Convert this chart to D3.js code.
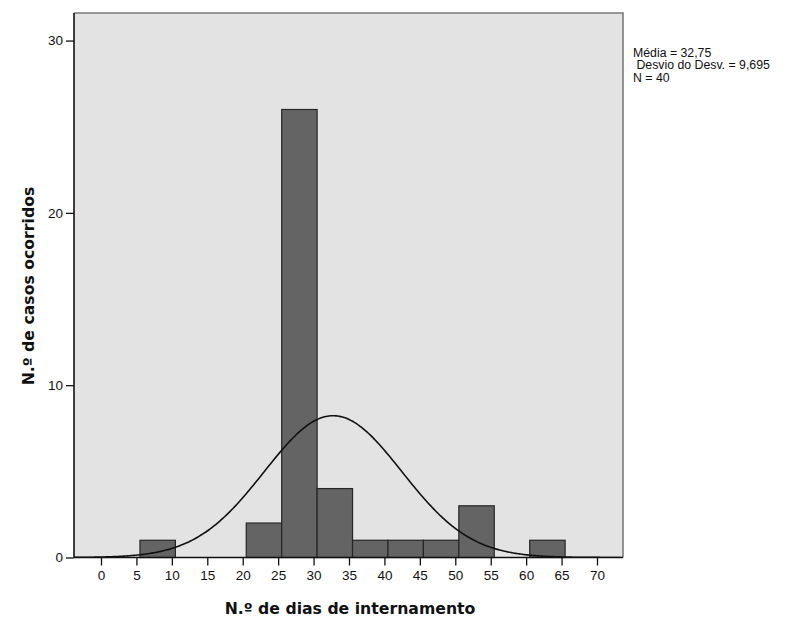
<!DOCTYPE html>
<html>
<head>
<meta charset="utf-8">
<script src="https://cdn.jsdelivr.net/npm/d3@7"></script>
<style>
  body { margin: 0; background: #fff; }
  svg { display: block; }
</style>
</head>
<body>
<svg id="chart" width="797" height="618"></svg>
<script>
// ---- data ----
const binStarts = [5.5, 20.5, 25.5, 30.5, 35.5, 40.5, 45.5, 50.5, 60.5];
const binCounts = [1, 2, 26, 4, 1, 1, 1, 3, 1];
const binWidth = 5;
const xTicks = [0, 5, 10, 15, 20, 25, 30, 35, 40, 45, 50, 55, 60, 65, 70];
const yTicks = [0, 10, 20, 30];
const stats = { mean: 32.75, sd: 9.695, n: 40 };
const legendLines = ["Média = 32,75", " Desvio do Desv. = 9,695", "N = 40"];
const xTitle = "N.º de dias de internamento";
const yTitle = "N.º de casos ocorridos";

// ---- layout ----
const frame = { left: 74, right: 623, top: 13, bottom: 557.5 };
const svg = d3.select("#chart");

const x = d3.scaleLinear().domain([-3.81, 73.67]).range([frame.left, frame.right]);
const y = d3.scaleLinear().domain([0, 31.6]).range([frame.bottom, frame.top]);

// background
svg.append("rect")
  .attr("x", frame.left).attr("y", frame.top)
  .attr("width", frame.right - frame.left).attr("height", frame.bottom - frame.top)
  .attr("fill", "#e3e3e3");

const clipId = "plotclip";
svg.append("clipPath").attr("id", clipId).append("rect")
  .attr("x", frame.left).attr("y", frame.top)
  .attr("width", frame.right - frame.left).attr("height", frame.bottom - frame.top);

// bars
const bins = binStarts.map((s, i) => ({ x0: s, x1: s + binWidth, c: binCounts[i] }));
svg.append("g").selectAll("rect").data(bins).join("rect")
  .attr("x", d => x(d.x0))
  .attr("y", d => y(d.c))
  .attr("width", d => x(d.x1) - x(d.x0))
  .attr("height", d => y(0) - y(d.c))
  .attr("fill", "#646464")
  .attr("stroke", "#262626")
  .attr("stroke-width", 1.2);

// normal curve
const scaleFactor = stats.n * binWidth;
const norm = v => scaleFactor / (stats.sd * Math.sqrt(2 * Math.PI)) *
  Math.exp(-0.5 * Math.pow((v - stats.mean) / stats.sd, 2));
const xs = d3.range(x.domain()[0], x.domain()[1] + 0.01, 0.25);
svg.append("path")
  .datum(xs)
  .attr("clip-path", `url(#${clipId})`)
  .attr("fill", "none")
  .attr("stroke", "#111")
  .attr("stroke-width", 1.6)
  .attr("d", d3.line().x(v => x(v)).y(v => y(norm(v))).curve(d3.curveBasis));

// frame top/right
svg.append("path")
  .attr("d", `M${frame.left},${frame.top}H${frame.right}V${frame.bottom}`)
  .attr("fill", "none").attr("stroke", "#7a7a7a").attr("stroke-width", 1.6);

// axes
const tickFont = "Liberation Sans, Arial, sans-serif";
const xAxis = d3.axisBottom(x).tickValues(xTicks).tickSize(8).tickPadding(5).tickSizeOuter(0);
const gx = svg.append("g").attr("transform", `translate(0,${frame.bottom})`).call(xAxis);
gx.select(".domain").attr("d", `M${frame.left},0H${frame.right}`).attr("stroke", "#111").attr("stroke-width", 1.6);
gx.selectAll(".tick line").attr("stroke", "#111").attr("stroke-width", 1.3);
gx.selectAll(".tick text").attr("font-family", tickFont).attr("font-size", 13.5).attr("fill", "#111");

const yAxis = d3.axisLeft(y).tickValues(yTicks).tickSize(8).tickPadding(3).tickSizeOuter(0);
const gy = svg.append("g").attr("transform", `translate(${frame.left},0)`).call(yAxis);
gy.select(".domain").attr("d", `M0,${frame.top}V${frame.bottom}`).attr("stroke", "#111").attr("stroke-width", 1.6);
gy.selectAll(".tick line").attr("stroke", "#111").attr("stroke-width", 1.3);
gy.selectAll(".tick text").attr("font-family", tickFont).attr("font-size", 13.5).attr("fill", "#111");

// axis titles
svg.append("text")
  .attr("x", 350).attr("y", 614)
  .attr("text-anchor", "middle")
  .attr("font-family", "DejaVu Sans, sans-serif").attr("font-weight", "bold").attr("font-size", 15.7)
  .attr("fill", "#111")
  .text(xTitle);

svg.append("text")
  .attr("transform", `translate(34,${286}) rotate(-90)`)
  .attr("text-anchor", "middle")
  .attr("font-family", "DejaVu Sans, sans-serif").attr("font-weight", "bold").attr("font-size", 15.7)
  .attr("fill", "#111")
  .text(yTitle);

// legend stats
svg.append("g").selectAll("text").data(legendLines).join("text")
  .attr("x", 633)
  .attr("y", (d, i) => 56.5 + i * 12.5)
  .attr("font-family", tickFont).attr("font-size", 12.3)
  .attr("fill", "#111")
  .attr("xml:space", "preserve")
  .style("white-space", "pre")
  .text(d => d);
</script>
</body>
</html>
